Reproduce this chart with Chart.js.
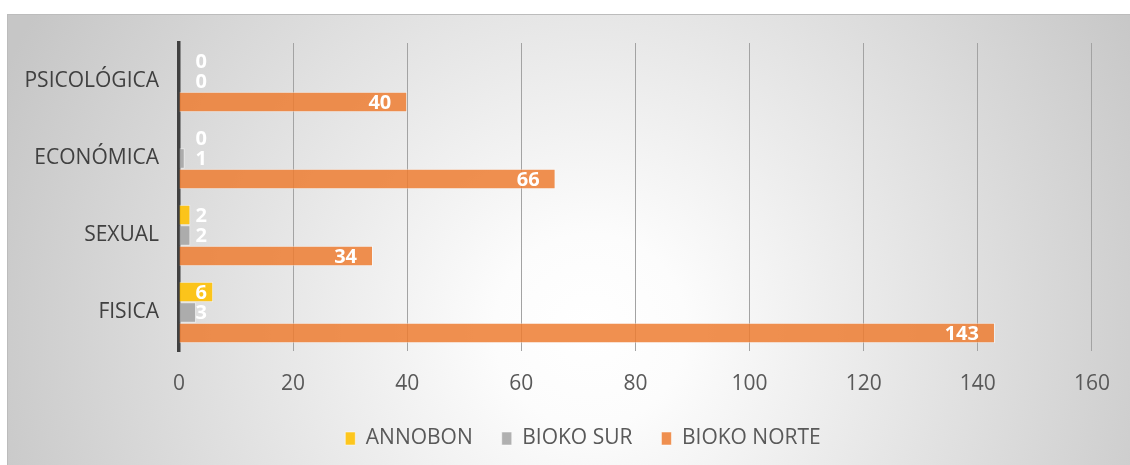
<!DOCTYPE html>
<html>
<head>
<meta charset="utf-8">
<script src="https://cdn.jsdelivr.net/npm/chart.js@4"></script>
<style>
  html, body { margin: 0; padding: 0; background: #fff; }
  #wrap { width: 1130px; height: 465px; position: relative; }
</style>
</head>
<body>
<div id="wrap"><canvas id="Chart"></canvas></div>
<script>
const categories = ["PSICOLÓGICA", "ECONÓMICA", "SEXUAL", "FISICA"];
const annobon = [0, 0, 2, 6];
const biokoSur = [0, 1, 2, 3];
const biokoNorte = [40, 66, 34, 143];
const xTicks = [0, 20, 40, 60, 80, 100, 120, 140, 160];

const FONT = '"Open Sans", "Noto Sans", sans-serif';

// frame + radial background
const bgPlugin = {
  id: "bg",
  beforeDraw(chart) {
    const ctx = chart.ctx;
    ctx.save();
    ctx.fillStyle = "#fff";
    ctx.fillRect(0, 0, chart.width, chart.height);
    const g = ctx.createRadialGradient(590, 330, 0, 590, 330, 640);
    g.addColorStop(0, "#ffffff");
    g.addColorStop(0.15, "#fcfcfc");
    g.addColorStop(1, "#c6c6c6");
    ctx.fillStyle = g;
    ctx.fillRect(7, 14, chart.width - 7, chart.height - 14);
    ctx.strokeStyle = "#bcbcbc";
    ctx.lineWidth = 1;
    ctx.strokeRect(7.5, 14.5, chart.width, chart.height);
    ctx.restore();
  },
  // legend in the original sits a bit right of centre
  afterLayout(chart) {
    chart.legend.left += 35;
    chart.legend.right += 35;
  }
};

// white value labels, inside end of bar, pushed out for tiny bars
const valuePlugin = {
  id: "values",
  afterDatasetsDraw(chart) {
    const ctx = chart.ctx;
    const x0 = chart.scales.x.getPixelForValue(0);
    ctx.save();
    ctx.font = "bold 20px " + FONT;
    ctx.fillStyle = "#ffffff";
    ctx.textAlign = "right";
    ctx.textBaseline = "middle";
    chart.data.datasets.forEach((ds, i) => {
      chart.getDatasetMeta(i).data.forEach((bar, j) => {
        const right = Math.max(bar.x - 16, x0 + 28);
        ctx.fillText(String(ds.data[j]), right, bar.y + 1);
      });
    });
    ctx.restore();
  }
};

const data = {
  labels: categories,
  datasets: [
    {
      label: "ANNOBON",
      data: annobon,
      backgroundColor: "rgba(255, 192, 0, 0.88)",
      borderColor: "rgba(255, 255, 255, 0.5)",
      borderWidth: 1,
    },
    {
      label: "BIOKO SUR",
      data: biokoSur,
      backgroundColor: "rgba(165, 165, 165, 0.88)",
      borderColor: "rgba(255, 255, 255, 0.5)",
      borderWidth: 1,
    },
    {
      label: "BIOKO NORTE",
      data: biokoNorte,
      backgroundColor: "rgba(237, 125, 49, 0.85)",
      borderColor: "rgba(255, 255, 255, 0.5)",
      borderWidth: 1,
    },
  ],
};

const config = {
  type: "bar",
  data: data,
  options: {
    indexAxis: "y",
    responsive: true,
    maintainAspectRatio: false,
    animation: false,
    categoryPercentage: 0.8,
    barPercentage: 1.0,
    layout: { padding: { left: 0, top: 43, right: 34, bottom: 6 } },
    scales: {
      x: {
        min: 0,
        max: 160,
        afterBuildTicks(scale) {
          scale.ticks = xTicks.map(v => ({ value: v }));
        },
        afterFit(scale) { scale.height = 48; },
        grid: { color: "#a3a3a3", lineWidth: 1, drawTicks: false },
        border: { display: false },
        ticks: { padding: 20, color: "#595959", font: { family: FONT, size: 21 } },
      },
      y: {
        afterFit(scale) { scale.width = 179; },
        grid: { display: false, drawTicks: false },
        border: { color: "#404040", width: 3.5 },
        ticks: { padding: 20, color: "#404040", font: { family: FONT, size: 21 } },
      },
    },
    plugins: {
      legend: {
        position: "bottom",
        labels: {
          boxWidth: 10,
          boxHeight: 13,
          padding: 29,
          color: "#595959",
          font: { family: FONT, size: 21 },
        },
      },
      tooltip: { enabled: false },
    },
  },
  plugins: [bgPlugin, valuePlugin],
};

const myChart = new Chart(document.getElementById("Chart"), config);
</script>
</body>
</html>
